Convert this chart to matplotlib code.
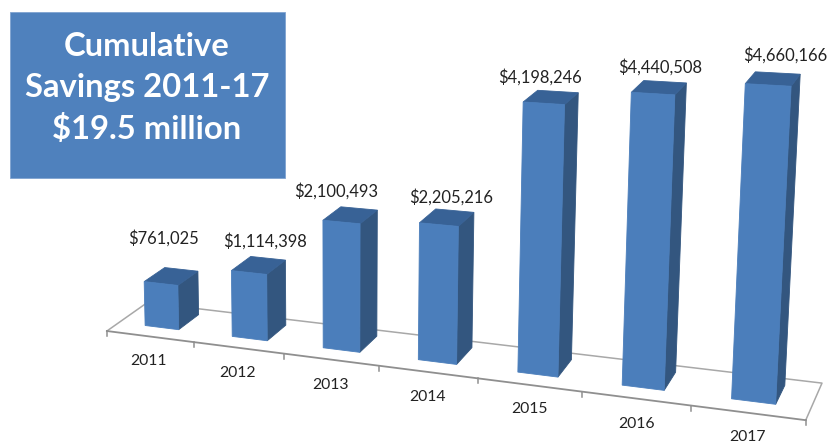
import numpy as np
import matplotlib
matplotlib.use("Agg")
import matplotlib.pyplot as plt
from matplotlib.patches import Polygon, Rectangle

years = ["2011", "2012", "2013", "2014", "2015", "2016", "2017"]
savings = [761025, 1114398, 2100493, 2205216, 4198246, 4440508, 4660166]
title_lines = "Cumulative\nSavings 2011-17\n$19.5 million"

# where the value and year labels sit, in pixels
value_label_xy = [(164, 238), (265, 241), (336, 191), (451, 197), (540, 77), (660, 67), (785, 55)]
year_label_xy = [(148, 361), (237, 373), (330, 385), (427, 397), (529, 409), (636, 424), (747, 437)]

# camera calibration: (slot, depth, millions) -> pixel
calib_world = [(0, 1, 0), (7, 1, 0), (7, 0, 0), (0, 0, 0), (1, 0, 0), (3, 0, 0), (6, 0, 0),
               (0.305, 0.3, 0.761), (2.305, 0.3, 2.100), (4.305, 0.3, 4.198), (6.305, 0.3, 4.660),
               (0.305, 0.3, 0), (2.305, 0.3, 0), (6.305, 0.3, 0)]
calib_pixel = [(145, 306), (822, 381), (805, 422), (105, 329), (192, 343), (378, 367), (691, 408),
               (146, 281), (323, 220), (522, 103), (746, 83),
               (148, 324), (326, 346), (732, 397)]


def fit_camera(world, pixel):
    rows = []
    rhs = []
    for (X, Y, Z), (px, py) in zip(world, pixel):
        rows.append([X, Y, Z, 1, 0, 0, 0, 0, -px * X, -px * Y, -px * Z])
        rows.append([0, 0, 0, 0, X, Y, Z, 1, -py * X, -py * Y, -py * Z])
        rhs += [px, py]
    sol = np.linalg.lstsq(np.array(rows, float), np.array(rhs, float), rcond=None)[0]
    return np.append(sol, 1).reshape(3, 4)


cam = fit_camera(calib_world, calib_pixel)


def project(u, v, z=0):
    p = cam @ np.array([u, v, z, 1.0])
    return p[0] / p[2], p[1] / p[2]


plt.rcParams["font.family"] = ["Lato", "DejaVu Sans"]
fig = plt.figure(figsize=(8.3, 4.45), dpi=100)
ax = fig.add_axes([0, 0, 1, 1])
ax.set_xlim(0, 830)
ax.set_ylim(445, 0)
ax.axis("off")

# floor
n = len(years)
back = [project(0, 0), project(0, 1), project(n, 1), project(n, 0)]
ax.plot(*zip(*back), color="#a8a8a8", lw=1.1, zorder=1)
ax.plot(*zip(project(0, 0), project(n, 0)), color="#8f8f8f", lw=1.3, zorder=1)
for i in range(n + 1):
    x0, y0 = project(i, 0)
    ax.plot([x0, x0], [y0, y0 + 5], color="#8f8f8f", lw=1.1, zorder=1)

# bars, left to right
bar_w = 0.39
v0, v1 = 0.3, 0.82
for i, val in enumerate(savings):
    z = val / 1e6
    u0 = i + 0.5 - bar_w / 2
    u1 = i + 0.5 + bar_w / 2
    front = [project(u0, v0), project(u1, v0), project(u1, v0, z), project(u0, v0, z)]
    side = [project(u1, v0), project(u1, v1), project(u1, v1, z), project(u1, v0, z)]
    top = [project(u0, v0, z), project(u1, v0, z), project(u1, v1, z), project(u0, v1, z)]
    ax.add_patch(Polygon(side, closed=True, fc="#33567f", ec="#33567f", lw=0.6, zorder=2 + i))
    ax.add_patch(Polygon(top, closed=True, fc="#386296", ec="#386296", lw=0.6, zorder=2 + i))
    ax.add_patch(Polygon(front, closed=True, fc="#4b7ebb", ec="#4b7ebb", lw=0.6, zorder=2 + i))

for val, (x, y) in zip(savings, value_label_xy):
    ax.text(x, y, f"${val:,}", ha="center", va="center", fontsize=11.9, color="#222222", zorder=20)
for yr, (x, y) in zip(years, year_label_xy):
    ax.text(x, y, yr, ha="center", va="center", fontsize=11.3, color="#222222", zorder=20)

# title box
ax.add_patch(Rectangle((10, 12), 275, 166, fc="#4f81bd", ec="#7fa3d0", lw=0.6, zorder=20))
ax.text(147, 88, title_lines, ha="center", va="center", color="white", fontsize=23.6,
        fontweight="bold", linespacing=1.47, zorder=21)

fig.savefig("out.png", dpi=100)
